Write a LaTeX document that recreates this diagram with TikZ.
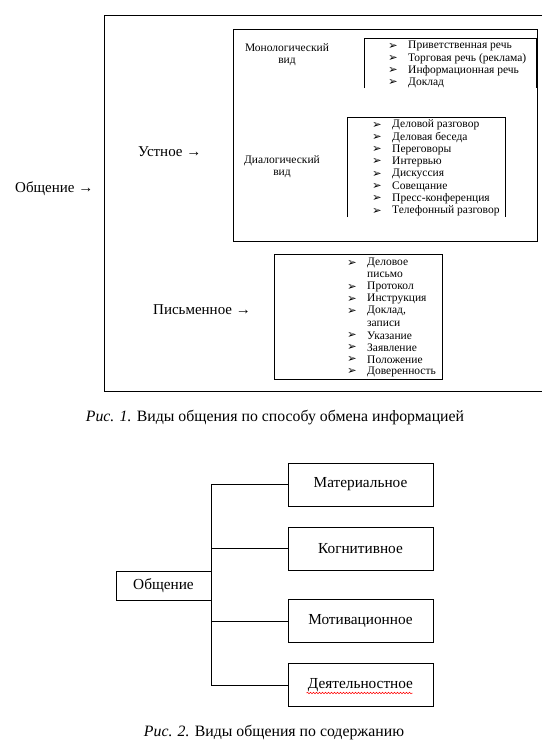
\documentclass[tikz,border=0pt]{standalone}
\usepackage{fontspec}
\setmainfont{Liberation Serif}
\newfontfamily\dingfont{DejaVu Sans}
\usepackage{tikz}
\usetikzlibrary{positioning,calc,decorations.pathmorphing}

\begin{document}
\begin{tikzpicture}[
  x=1pt,y=-1pt,
  frame/.style={draw,line width=1pt},
  openframe/.style={line width=1pt},
  head/.style={anchor=west,inner sep=0pt,font=\fontsize{15}{17}\selectfont},
  kind/.style={align=center,inner sep=0pt,font=\fontsize{11.5}{12}\selectfont},
  item/.style={anchor=west,inner sep=0pt,font=\fontsize{11.5}{12}\selectfont},
  bullet/.style={inner sep=0pt,font=\dingfont\fontsize{11.5}{12}\selectfont},
  leaf/.style={draw,line width=1pt,minimum width=145pt,minimum height=43pt,
    inner sep=0pt,font=\fontsize{15.3}{17}\selectfont},
  root/.style={draw,line width=1pt,minimum width=95pt,minimum height=29pt,
    inner sep=0pt,font=\fontsize{15.3}{17}\selectfont},
  caption/.style={inner sep=0pt,font=\fontsize{15.8}{18}\selectfont}
]
  \useasboundingbox (0,0) rectangle (554,755);

  % Fig. 1
  \draw[openframe] (542,15) -- (104,15) -- (104,391) -- (542,391);
  \node[frame,minimum width=304pt,minimum height=212pt,anchor=north west] (oral) at (233,29) {};
  \draw[openframe] (364,88) -- (364,38) -- (536,38) -- (536,88);
  \draw[openframe] (347,217) -- (347,117) -- (505,117) -- (505,217);
  \node[frame,minimum width=168pt,minimum height=125pt,anchor=north west] (written) at (274,254) {};

  \node[head] (all) at (15,189) {Общение →};
  \node[head] (oraltxt) at (138,152) {Устное →};
  \node[head] (writtentxt) at (153,310) {Письменное →};
  \node[kind] (mono) at (287,55) {Монологический\\вид};
  \node[kind] (dia) at (282,167) {Диалогический\\вид};

  \foreach \t [count=\i from 0] in {Приветственная речь,Торговая речь (реклама),
      Информационная речь,Доклад}{
    \node[bullet] (mb\i) at (393,46+12.3*\i) {➢};
    \node[item] (mi\i) at (408,46+12.3*\i) {\t};
  }
  \foreach \t [count=\i from 0] in {Деловой разговор,Деловая беседа,Переговоры,
      Интервью,Дискуссия,Совещание,Пресс-конференция,Телефонный разговор}{
    \node[bullet] (db\i) at (377,125+12.3*\i) {➢};
    \node[item] (di\i) at (392,125+12.3*\i) {\t};
  }
  \foreach \t/\b [count=\i from 0] in {Деловое/1,письмо/0,Протокол/1,Инструкция/1,
      {Доклад,}/1,записи/0,Указание/1,Заявление/1,Положение/1,Доверенность/1}{
    \ifnum\b=1 \node[bullet] (wb\i) at (352,263+12.1*\i) {➢};\fi
    \node[item] (wi\i) at (367,263+12.1*\i) {\t};
  }

  \node[caption] (cap1) at (275,418) {\textit{Рис. 1.} Виды общения по способу обмена информацией};

  % Fig. 2
  \node[root] (com) at (163.5,585.5) {Общение};
  \node[leaf] (mat) at (360.5,484.5) {Материальное};
  \node[leaf] (cog) at (360.5,548.5) {Когнитивное};
  \node[leaf] (mot) at (360.5,621) {Мотивационное};
  \node[leaf] (act) at (360.5,685) {Деятельностное};

  \draw[line width=1pt] (mat.west) -- (mat.west -| com.east) -- (act.west -| com.east) -- (act.west);
  \draw[line width=1pt] (cog.west) -- (cog.west -| com.east);
  \draw[line width=1pt] (mot.west) -- (mot.west -| com.east);
  \draw[red,line width=0.5pt,decorate,decoration={snake,amplitude=0.8pt,segment length=3pt}]
    ($(act.center)+(-54,8)$) -- ($(act.center)+(52,8)$);

  \node[caption] (cap2) at (274,733) {\textit{Рис. 2.} Виды общения по содержанию};
\end{tikzpicture}
\end{document}
